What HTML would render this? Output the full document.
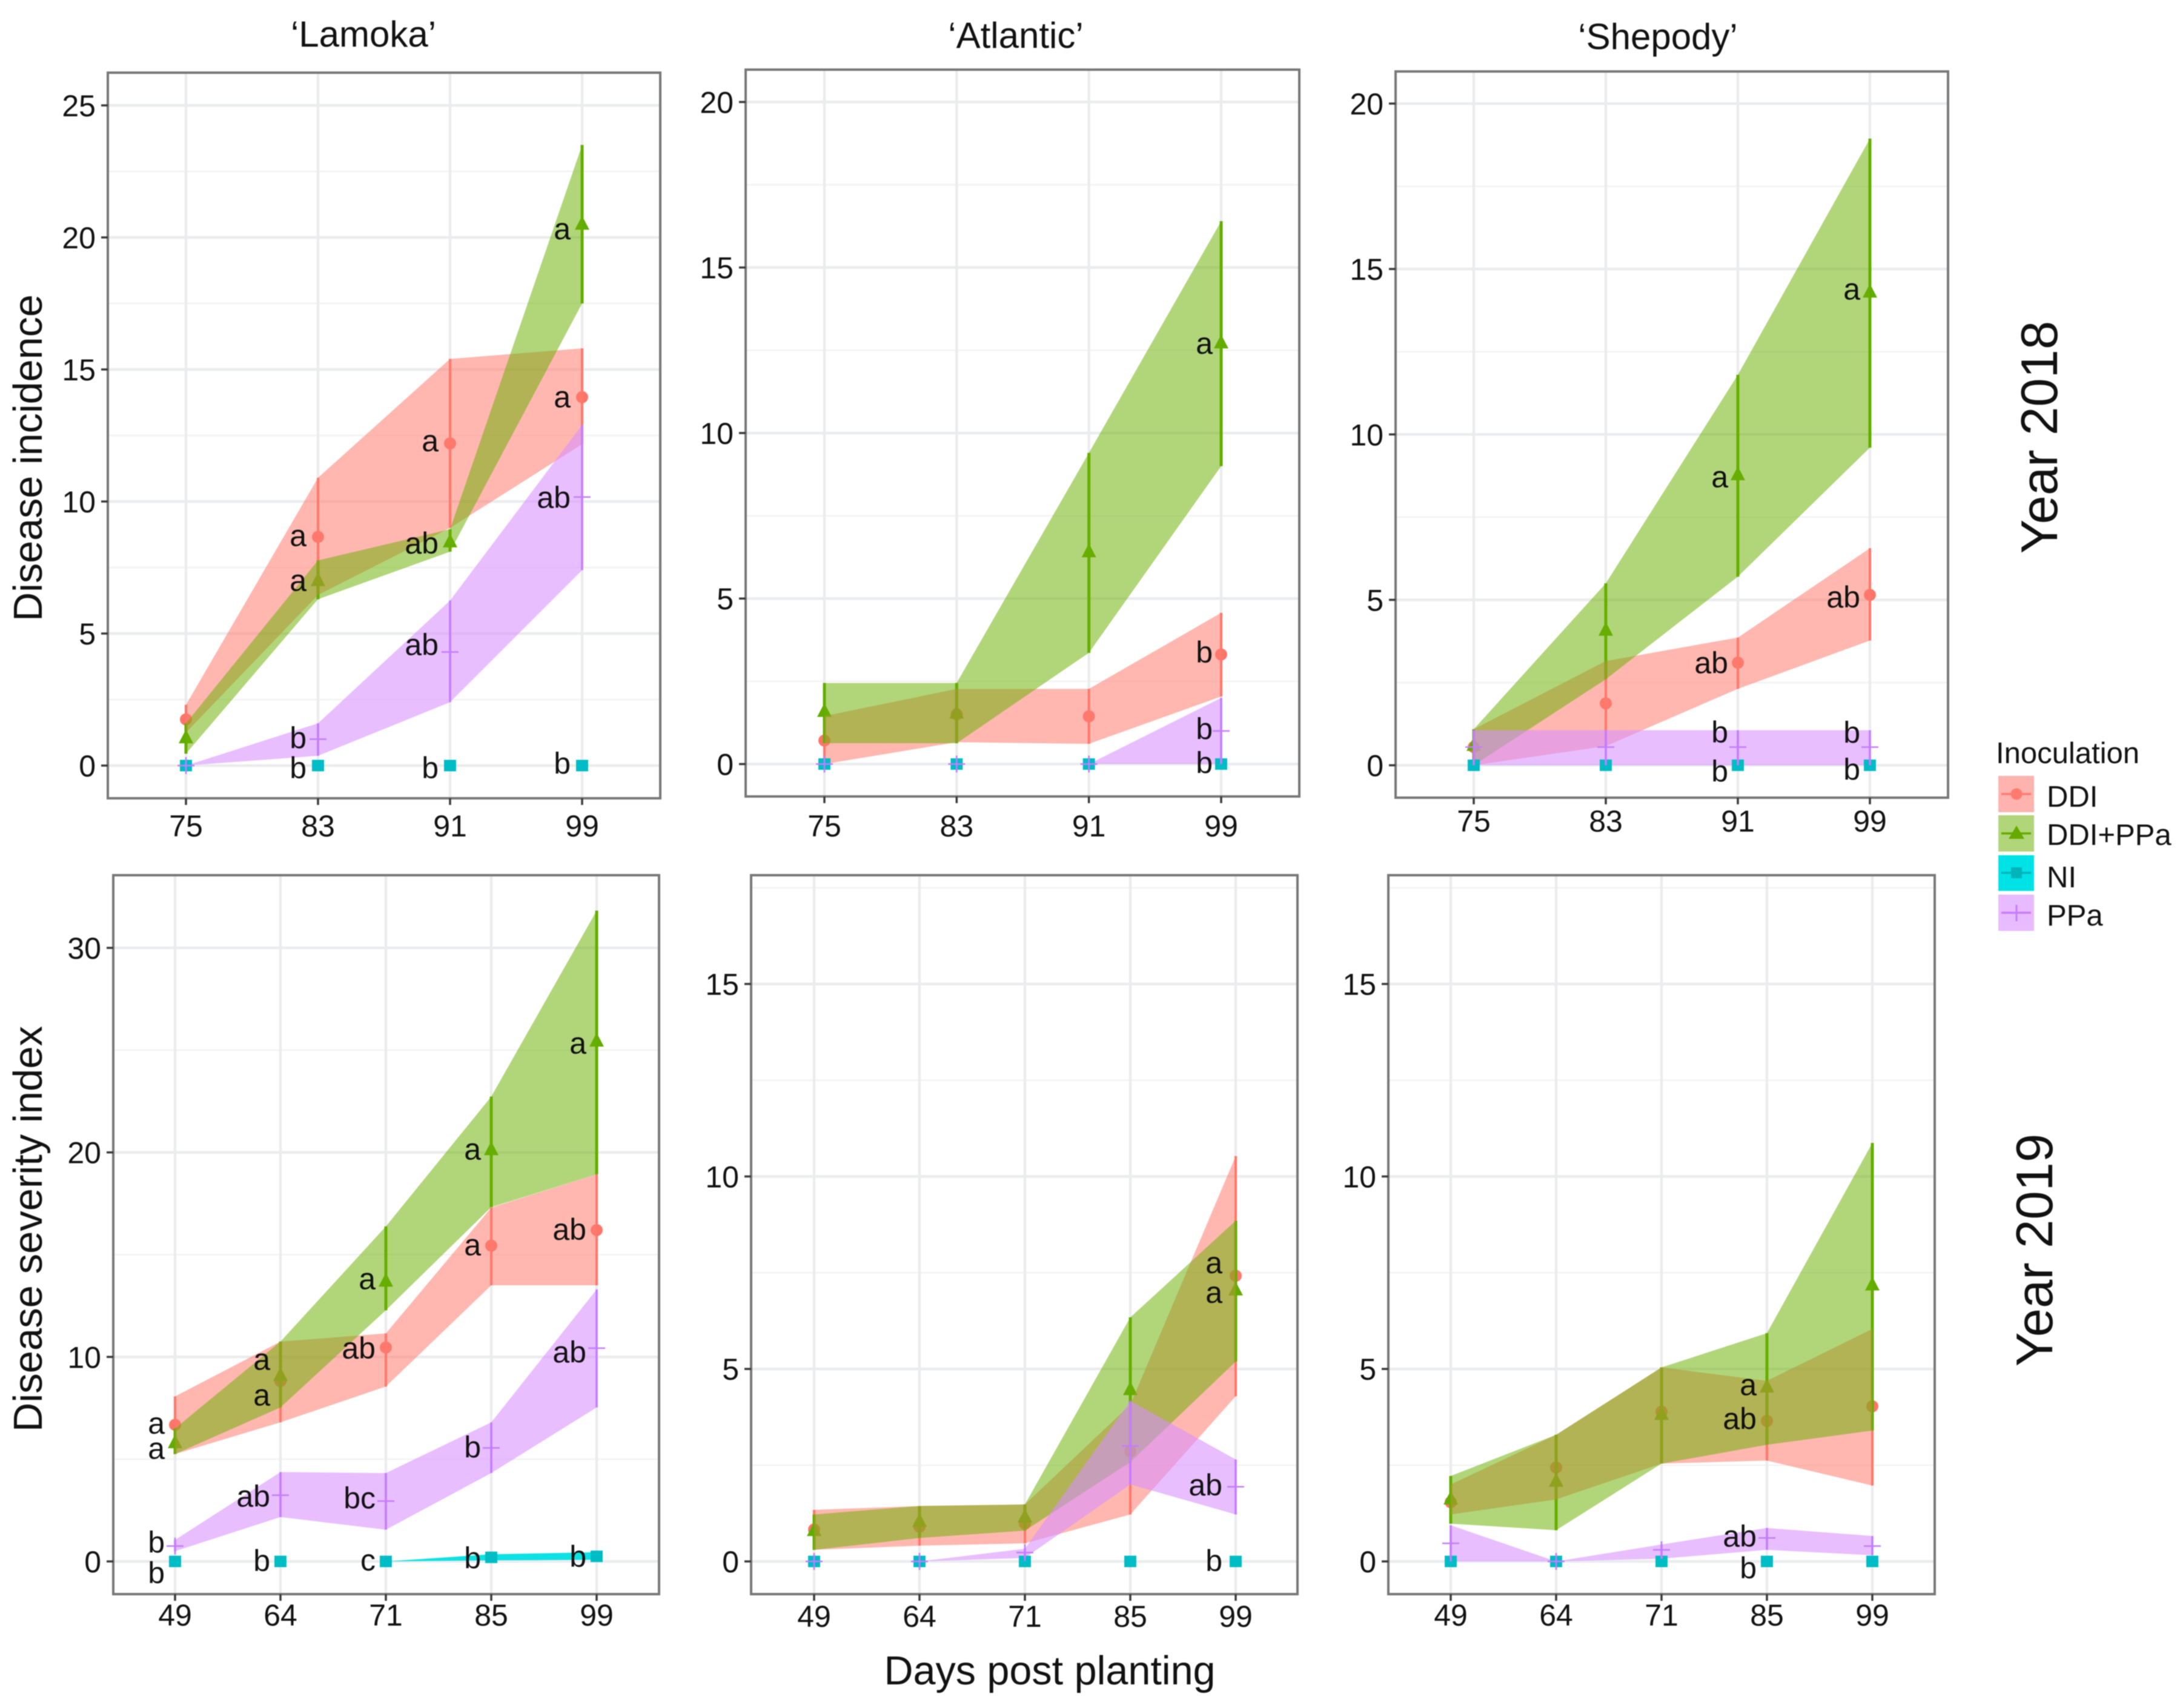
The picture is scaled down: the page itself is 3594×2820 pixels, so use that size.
<!DOCTYPE html>
<html lang="en">
<head>
<meta charset="utf-8">
<title>Disease incidence and severity by cultivar and inoculation</title>
<style>
html,body{margin:0;padding:0;background:#fff;}
svg{display:block;font-family:"Liberation Sans",sans-serif;filter:blur(0.7px);}
text{fill:#111;}
</style>
</head>
<body>
<svg id="figure" xmlns="http://www.w3.org/2000/svg" width="3594" height="2820" viewBox="0 0 3594 2820">
  <rect x="0" y="0" width="3594" height="2820" fill="#ffffff"/>
  <g id="panels"></g>

  <text x="600" y="77" font-size="60" text-anchor="middle">‘Lamoka’</text>
  <text x="1677" y="79" font-size="60" text-anchor="middle">‘Atlantic’</text>
  <text x="2737" y="81" font-size="60" text-anchor="middle">‘Shepody’</text>

  <text transform="translate(69,756) rotate(-90)" font-size="66.5" text-anchor="middle">Disease incidence</text>
  <text transform="translate(69,2029) rotate(-90)" font-size="67" text-anchor="middle">Disease severity index</text>
  <text x="1733" y="2781" font-size="66.5" text-anchor="middle">Days post planting</text>

  <text transform="translate(3396,722) rotate(-90)" font-size="85" text-anchor="middle">Year 2018</text>
  <text transform="translate(3388,2064) rotate(-90)" font-size="85" text-anchor="middle">Year 2019</text>

  <g>
    <text x="3295" y="1260" font-size="49">Inoculation</text>

    <g>
      <rect x="3299" y="1281" width="59" height="60" fill="#ffb3ae"/>
      <line x1="3304" x2="3353" y1="1311" y2="1311" stroke="#ff7b70" stroke-width="3.5"/>
      <circle cx="3329" cy="1311" r="9.5" fill="#ff7b70"/>
      <text x="3379" y="1332" font-size="49">DDI</text>
    </g>
    <g>
      <rect x="3299" y="1346" width="59" height="60" fill="#b1d67a"/>
      <line x1="3304" x2="3353" y1="1376" y2="1376" stroke="#66aa00" stroke-width="3.5"/>
      <polygon points="3329,1363 3342,1385 3316,1385" fill="#66aa00"/>
      <text x="3379" y="1395" font-size="49">DDI+PPa</text>
    </g>
    <g>
      <rect x="3299" y="1412" width="59" height="59" fill="#00e3e6"/>
      <line x1="3304" x2="3353" y1="1441" y2="1441" stroke="#00b4bb" stroke-width="3.5"/>
      <rect x="3320" y="1432" width="18" height="18" fill="#00b4bb"/>
      <text x="3379" y="1465" font-size="49">NI</text>
    </g>
    <g>
      <rect x="3299" y="1477" width="59" height="60" fill="#e8baff"/>
      <line x1="3304" x2="3353" y1="1507" y2="1507" stroke="#c77cff" stroke-width="3.5"/>
      <line x1="3329" x2="3329" y1="1494" y2="1521" stroke="#c77cff" stroke-width="3"/>
      <text x="3379" y="1528" font-size="49">PPa</text>
    </g>
  </g>
</svg>

<script>
// ---------- categories and tick labels ----------
const days2018 = ['75', '83', '91', '99'];
const days2019 = ['49', '64', '71', '85', '99'];
const incidenceTicksLamoka = [0, 5, 10, 15, 20, 25];
const incidenceTicksOther = [0, 5, 10, 15, 20];
const severityTicksLamoka = [0, 10, 20, 30];
const severityTicksOther = [0, 5, 10, 15];

// ---------- Lamoka 2018 ----------
const lamoka18DdiMean = [1.75, 8.66, 12.2, 13.95];
const lamoka18DdiUpper = [2.3, 10.9, 15.4, 15.8];
const lamoka18DdiLower = [1.25, 6.46, 9.0, 12.17];
const lamoka18ComboMean = [1.05, 7.0, 8.47, 20.5];
const lamoka18ComboUpper = [1.6, 7.77, 8.95, 23.5];
const lamoka18ComboLower = [0.45, 6.3, 8.1, 17.5];
const lamoka18NiMean = [0, 0, 0, 0];
const lamoka18NiUpper = [0, 0, 0, 0];
const lamoka18NiLower = [0, 0, 0, 0];
const lamoka18PpaMean = [0, 1.0, 4.3, 10.17];
const lamoka18PpaUpper = [0, 1.6, 6.25, 12.9];
const lamoka18PpaLower = [0, 0.37, 2.4, 7.4];
const lamoka18LabelText = ['a', 'a', 'a', 'ab', 'ab', 'a', 'a', 'ab', 'b', 'b', 'b', 'b'];
const lamoka18LabelCat = [1, 1, 2, 2, 2, 3, 3, 3, 1, 1, 2, 3];
const lamoka18LabelValue = [8.68, 6.98, 12.27, 8.39, 4.55, 13.93, 20.3, 10.13, 1.02, -0.12, -0.12, 0.06];

// ---------- Atlantic 2018 ----------
const atlantic18DdiMean = [0.71, 1.5, 1.44, 3.31];
const atlantic18DdiUpper = [1.45, 2.27, 2.27, 4.57];
const atlantic18DdiLower = [0, 0.66, 0.61, 2.04];
const atlantic18ComboMean = [1.59, 1.54, 6.41, 12.72];
const atlantic18ComboUpper = [2.45, 2.45, 9.4, 16.4];
const atlantic18ComboLower = [0.63, 0.63, 3.36, 9.0];
const atlantic18NiMean = [0, 0, 0, 0];
const atlantic18NiUpper = [0, 0, 0, 0];
const atlantic18NiLower = [0, 0, 0, 0];
const atlantic18PpaMean = [0, 0, 0, 1.0];
const atlantic18PpaUpper = [0, 0, 0, 2.0];
const atlantic18PpaLower = [0, 0, 0, 0];
const atlantic18LabelText = ['a', 'b', 'b', 'b'];
const atlantic18LabelCat = [3, 3, 3, 3];
const atlantic18LabelValue = [12.69, 3.36, 1.04, 0.02];

// ---------- Shepody 2018 ----------
const shepody18DdiMean = [0.55, 1.87, 3.1, 5.15];
const shepody18DdiUpper = [1.09, 3.15, 3.86, 6.56];
const shepody18DdiLower = [0, 0.58, 2.31, 3.77];
const shepody18ComboMean = [0.6, 4.08, 8.78, 14.3];
const shepody18ComboUpper = [1.09, 5.5, 11.8, 18.94];
const shepody18ComboLower = [0, 2.6, 5.7, 9.6];
const shepody18NiMean = [0, 0, 0, 0];
const shepody18NiUpper = [0, 0, 0, 0];
const shepody18NiLower = [0, 0, 0, 0];
const shepody18PpaMean = [0.55, 0.55, 0.55, 0.55];
const shepody18PpaUpper = [1.06, 1.06, 1.06, 1.06];
const shepody18PpaLower = [0, 0, 0, 0];
const shepody18LabelText = ['a', 'a', 'ab', 'ab', 'b', 'b', 'b', 'b'];
const shepody18LabelCat = [3, 2, 2, 3, 2, 2, 3, 3];
const shepody18LabelValue = [14.37, 8.7, 3.08, 5.06, 0.98, -0.2, 0.97, -0.15];

// ---------- Lamoka 2019 ----------
const lamoka19DdiMean = [6.68, 8.82, 10.46, 15.44, 16.2];
const lamoka19DdiUpper = [8.07, 10.75, 11.15, 17.3, 18.93];
const lamoka19DdiLower = [5.25, 6.8, 8.55, 13.5, 13.5];
const lamoka19ComboMean = [5.8, 9.09, 13.7, 20.13, 25.44];
const lamoka19ComboUpper = [6.5, 10.75, 16.38, 22.73, 31.82];
const lamoka19ComboLower = [5.25, 7.53, 12.28, 17.32, 18.93];
const lamoka19NiMean = [0, 0, 0, 0.2, 0.25];
const lamoka19NiUpper = [0, 0, 0, 0.35, 0.45];
const lamoka19NiLower = [0, 0, 0, 0.05, 0.08];
const lamoka19PpaMean = [0.75, 3.24, 2.95, 5.55, 10.43];
const lamoka19PpaUpper = [1.05, 4.37, 4.32, 6.8, 13.3];
const lamoka19PpaLower = [0.5, 2.17, 1.55, 4.32, 7.53];
const lamoka19LabelText = ['a', 'a', 'b', 'b', 'a', 'a', 'ab', 'b', 'a', 'ab', 'bc', 'c', 'a', 'a', 'b', 'b', 'a', 'ab', 'ab', 'b'];
const lamoka19LabelCat = [0, 0, 0, 0, 1, 1, 1, 1, 2, 2, 2, 2, 3, 3, 3, 3, 4, 4, 4, 4];
const lamoka19LabelValue = [6.73, 5.5, 0.91, -0.59, 9.84, 8.1, 3.16, 0, 13.78, 10.4, 3.06, 0.03, 20.13, 15.44, 5.55, 0.13, 25.3, 16.2, 10.2, 0.2];

// ---------- Atlantic 2019 ----------
const atlantic19DdiMean = [0.83, 0.9, 0.98, 2.86, 7.42];
const atlantic19DdiUpper = [1.34, 1.44, 1.48, 4.07, 10.53];
const atlantic19DdiLower = [0.3, 0.41, 0.47, 1.22, 4.29];
const atlantic19ComboMean = [0.8, 1.04, 1.15, 4.46, 7.05];
const atlantic19ComboUpper = [1.22, 1.44, 1.48, 6.34, 8.85];
const atlantic19ComboLower = [0.3, 0.61, 0.8, 2.58, 5.19];
const atlantic19NiMean = [0, 0, 0, 0, 0];
const atlantic19NiUpper = [0, 0, 0, 0, 0];
const atlantic19NiLower = [0, 0, 0, 0, 0];
const atlantic19PpaMean = [0, 0, 0.23, 3.0, 1.94];
const atlantic19PpaUpper = [0, 0, 0.33, 4.17, 2.65];
const atlantic19PpaLower = [0, 0, 0.09, 2.0, 1.22];
const atlantic19LabelText = ['a', 'a', 'ab', 'b'];
const atlantic19LabelCat = [4, 4, 4, 4];
const atlantic19LabelValue = [7.74, 6.97, 1.97, 0];

// ---------- Shepody 2019 ----------
const shepody19DdiMean = [1.54, 2.44, 3.89, 3.65, 4.03];
const shepody19DdiUpper = [2.0, 3.29, 5.04, 4.69, 6.04];
const shepody19DdiLower = [1.22, 1.61, 2.54, 2.62, 1.97];
const shepody19ComboMean = [1.62, 2.08, 3.82, 4.53, 7.18];
const shepody19ComboUpper = [2.22, 3.29, 5.04, 5.93, 10.87];
const shepody19ComboLower = [0.98, 0.81, 2.54, 3.03, 3.4];
const shepody19NiMean = [0, 0, 0, 0, 0];
const shepody19NiUpper = [0, 0, 0, 0, 0];
const shepody19NiLower = [0, 0, 0, 0, 0];
const shepody19PpaMean = [0.47, 0, 0.3, 0.61, 0.4];
const shepody19PpaUpper = [0.94, 0, 0.44, 0.87, 0.66];
const shepody19PpaLower = [0, 0, 0.07, 0.3, 0.16];
const shepody19LabelText = ['a', 'ab', 'ab', 'b'];
const shepody19LabelCat = [3, 3, 3, 3];
const shepody19LabelValue = [4.57, 3.69, 0.64, -0.19];

// ---------- panel geometry and series styling (layout only) ----------
const SVG_NS = 'http://www.w3.org/2000/svg';
const seriesStyles = [
  { key: 'ddi', line: '#ff7468', fill: '#ff7b70', opacity: 0.55, width: 4, shape: 'circle', early: true },
  { key: 'ddi-ppa', line: '#62ac00', fill: '#69b000', opacity: 0.52, width: 5, shape: 'triangle', early: true },
  { key: 'ni', line: '#00bcc4', fill: '#00dfe3', opacity: 0.95, width: 3, shape: 'square', early: false },
  { key: 'ppa', line: '#c47cff', fill: '#d88fff', opacity: 0.58, width: 3.5, shape: 'plus', early: false }
];

const panels = [
  { id: 'lamoka-2018', left: 178, right: 1090, top: 120, bottom: 1318, xFirst: 307, xLast: 961, y0: 1264, yRef: 174, yRefValue: 25,
    xBase: 1381, gap: 19, minorStep: 2.5, maxMinor: 25, categories: days2018, ticks: incidenceTicksLamoka,
    series: [
      [lamoka18DdiMean, lamoka18DdiUpper, lamoka18DdiLower],
      [lamoka18ComboMean, lamoka18ComboUpper, lamoka18ComboLower],
      [lamoka18NiMean, lamoka18NiUpper, lamoka18NiLower],
      [lamoka18PpaMean, lamoka18PpaUpper, lamoka18PpaLower]
    ], labelText: lamoka18LabelText, labelCat: lamoka18LabelCat, labelValue: lamoka18LabelValue },
  { id: 'atlantic-2018', left: 1231, right: 2145, top: 115, bottom: 1315, xFirst: 1361, xLast: 2016, y0: 1261.5, yRef: 168.4, yRefValue: 20,
    xBase: 1381, gap: 14, minorStep: 2.5, maxMinor: 20, categories: days2018, ticks: incidenceTicksOther,
    series: [
      [atlantic18DdiMean, atlantic18DdiUpper, atlantic18DdiLower],
      [atlantic18ComboMean, atlantic18ComboUpper, atlantic18ComboLower],
      [atlantic18NiMean, atlantic18NiUpper, atlantic18NiLower],
      [atlantic18PpaMean, atlantic18PpaUpper, atlantic18PpaLower]
    ], labelText: atlantic18LabelText, labelCat: atlantic18LabelCat, labelValue: atlantic18LabelValue },
  { id: 'shepody-2018', left: 2304, right: 3216, top: 118, bottom: 1317, xFirst: 2433, xLast: 3087, y0: 1263.5, yRef: 171, yRefValue: 20,
    xBase: 1373, gap: 16, minorStep: 2.5, maxMinor: 20, categories: days2018, ticks: incidenceTicksOther,
    series: [
      [shepody18DdiMean, shepody18DdiUpper, shepody18DdiLower],
      [shepody18ComboMean, shepody18ComboUpper, shepody18ComboLower],
      [shepody18NiMean, shepody18NiUpper, shepody18NiLower],
      [shepody18PpaMean, shepody18PpaUpper, shepody18PpaLower]
    ], labelText: shepody18LabelText, labelCat: shepody18LabelCat, labelValue: shepody18LabelValue },
  { id: 'lamoka-2019', left: 187, right: 1088, top: 1445, bottom: 2632, xFirst: 289, xLast: 985, y0: 2578, yRef: 1565, yRefValue: 30,
    xBase: 2684, gap: 17, minorStep: 5, maxMinor: 30, categories: days2019, ticks: severityTicksLamoka,
    series: [
      [lamoka19DdiMean, lamoka19DdiUpper, lamoka19DdiLower],
      [lamoka19ComboMean, lamoka19ComboUpper, lamoka19ComboLower],
      [lamoka19NiMean, lamoka19NiUpper, lamoka19NiLower],
      [lamoka19PpaMean, lamoka19PpaUpper, lamoka19PpaLower]
    ], labelText: lamoka19LabelText, labelCat: lamoka19LabelCat, labelValue: lamoka19LabelValue },
  { id: 'atlantic-2019', left: 1240, right: 2142, top: 1445, bottom: 2632, xFirst: 1344, xLast: 2040, y0: 2578, yRef: 1624.6, yRefValue: 15,
    xBase: 2686, gap: 22, minorStep: 2.5, maxMinor: 17.5, categories: days2019, ticks: severityTicksOther,
    series: [
      [atlantic19DdiMean, atlantic19DdiUpper, atlantic19DdiLower],
      [atlantic19ComboMean, atlantic19ComboUpper, atlantic19ComboLower],
      [atlantic19NiMean, atlantic19NiUpper, atlantic19NiLower],
      [atlantic19PpaMean, atlantic19PpaUpper, atlantic19PpaLower]
    ], labelText: atlantic19LabelText, labelCat: atlantic19LabelCat, labelValue: atlantic19LabelValue },
  { id: 'shepody-2019', left: 2292, right: 3194, top: 1445, bottom: 2632, xFirst: 2395, xLast: 3091, y0: 2578, yRef: 1624.6, yRefValue: 15,
    xBase: 2684, gap: 17, minorStep: 2.5, maxMinor: 17.5, categories: days2019, ticks: severityTicksOther,
    series: [
      [shepody19DdiMean, shepody19DdiUpper, shepody19DdiLower],
      [shepody19ComboMean, shepody19ComboUpper, shepody19ComboLower],
      [shepody19NiMean, shepody19NiUpper, shepody19NiLower],
      [shepody19PpaMean, shepody19PpaUpper, shepody19PpaLower]
    ], labelText: shepody19LabelText, labelCat: shepody19LabelCat, labelValue: shepody19LabelValue }
];

function make(tag, parent, attrs) {
  const node = document.createElementNS(SVG_NS, tag);
  for (const k in attrs) node.setAttribute(k, attrs[k]);
  parent.appendChild(node);
  return node;
}

function drawPanel(p) {
  const root = document.getElementById('panels');
  const xScale = i => p.xFirst + (p.xLast - p.xFirst) * i / (p.categories.length - 1);
  const yScale = v => p.y0 + (p.yRef - p.y0) * v / p.yRefValue;

  const group = make('g', root, {});
  
  

  const background = make('rect', group, { x: p.left, y: p.top, width: p.right - p.left, height: p.bottom - p.top, fill: '#ffffff' });
  
  

  // minor horizontal grid
  const majorStep = p.ticks[1] - p.ticks[0];
  for (let v = p.minorStep; v <= p.maxMinor + 0.001; v += majorStep) {
    if (yScale(v) <= p.top) continue;
    const minor = make('line', group, { x1: p.left, x2: p.right, y1: yScale(v), y2: yScale(v), stroke: '#f3f3f4', 'stroke-width': 2.5 });
    
    
  }
  // major horizontal grid
  p.ticks.forEach(t => {
    const grid = make('line', group, { x1: p.left, x2: p.right, y1: yScale(t), y2: yScale(t), stroke: '#ebecee', 'stroke-width': 4.5 });
    
    
  });
  // vertical grid
  p.categories.forEach((c, i) => {
    const grid = make('line', group, { x1: xScale(i), x2: xScale(i), y1: p.top, y2: p.bottom, stroke: '#ebecee', 'stroke-width': 4.5 });
    
    
  });

  // error bars and markers for one series
  const drawMarks = si => {
    const s = p.series[si];
    const st = seriesStyles[si];
    s[0].forEach((mean, i) => {
      const cx = xScale(i), cy = yScale(mean);
      const bar = make('line', group, { x1: cx, x2: cx, y1: yScale(s[1][i]), y2: yScale(s[2][i]), stroke: st.line, 'stroke-width': st.width });
      
      
      let mark;
      if (st.shape === 'circle') {
        mark = make('circle', group, { cx: cx, cy: cy, r: 10, fill: st.line });
      } else if (st.shape === 'triangle') {
        mark = make('polygon', group, { points: cx + ',' + (cy - 14) + ' ' + (cx + 12) + ',' + (cy + 9) + ' ' + (cx - 12) + ',' + (cy + 9), fill: st.line });
      } else if (st.shape === 'square') {
        mark = make('rect', group, { x: cx - 10, y: cy - 9.5, width: 20, height: 19, fill: st.line });
      } else {
        mark = make('path', group, { d: 'M' + (cx - 14) + ' ' + cy + 'H' + (cx + 14) + 'M' + cx + ' ' + (cy - 14) + 'V' + (cy + 14), stroke: st.line, 'stroke-width': 2.5, fill: 'none' });
      }
      
      
    });
  };

  // DDI and DDI+PPa marks sit beneath the translucent ribbons
  seriesStyles.forEach((st, si) => { if (st.early) drawMarks(si); });

  // ribbons
  p.series.forEach((s, si) => {
    const st = seriesStyles[si];
    const up = s[1].map((v, i) => xScale(i) + ',' + yScale(v));
    const lo = s[2].map((v, i) => xScale(i) + ',' + yScale(v)).reverse();
    const band = make('polygon', group, { points: up.concat(lo).join(' '), fill: st.fill, 'fill-opacity': st.opacity });
    
    
  });

  // NI and PPa marks stay on top
  seriesStyles.forEach((st, si) => { if (!st.early) drawMarks(si); });

  // significance letters
  p.labelText.forEach((txt, i) => {
    const label = make('text', group, { x: xScale(p.labelCat[i]) - p.gap, y: yScale(p.labelValue[i]) + 16, 'font-size': 50, 'text-anchor': 'end' });
    label.textContent = txt;
    
    
  });

  // frame
  const frame = make('rect', group, { x: p.left, y: p.top, width: p.right - p.left, height: p.bottom - p.top, fill: 'none', stroke: '#787878', 'stroke-width': 4 });
  
  

  // y axis
  p.ticks.forEach(t => {
    const tick = make('line', group, { x1: p.left - 11, x2: p.left, y1: yScale(t), y2: yScale(t), stroke: '#3a3a3a', 'stroke-width': 3.5 });
    
    
    const label = make('text', group, { x: p.left - 20, y: yScale(t) + 18, 'font-size': 50, 'text-anchor': 'end' });
    label.textContent = String(t);
    
    
  });

  // x axis
  p.categories.forEach((c, i) => {
    const tick = make('line', group, { x1: xScale(i), x2: xScale(i), y1: p.bottom, y2: p.bottom + 11, stroke: '#3a3a3a', 'stroke-width': 3.5 });
    
    
    const label = make('text', group, { x: xScale(i), y: p.xBase, 'font-size': 50, 'text-anchor': 'middle' });
    label.textContent = c;
    
    
  });
}

panels.forEach(drawPanel);
</script>
</body>
</html>
